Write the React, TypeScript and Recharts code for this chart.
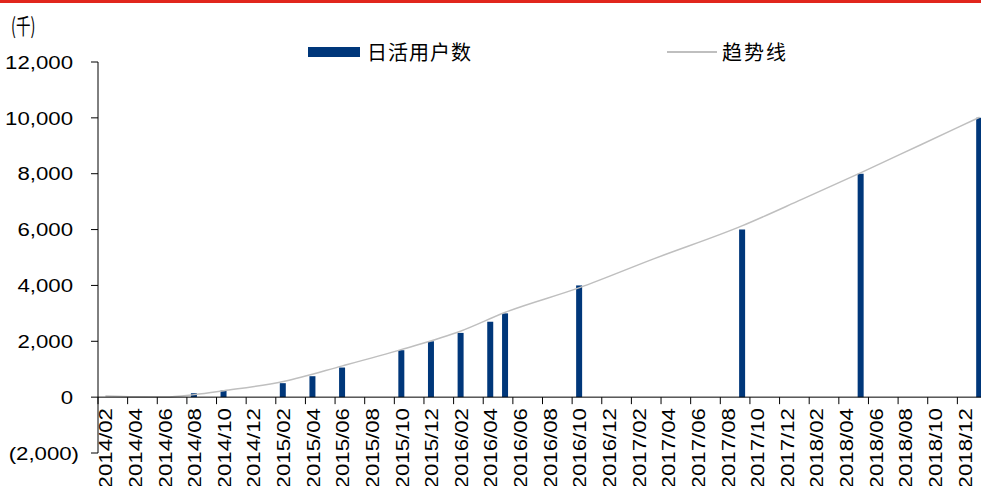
import { ComposedChart, Bar, Line, XAxis, YAxis, ReferenceLine } from 'recharts';

// monthly categories, 2014/02 .. 2019/01
const months = [
  '2014/02', '2014/03', '2014/04', '2014/05', '2014/06', '2014/07', '2014/08', '2014/09', '2014/10', '2014/11', '2014/12',
  '2015/01', '2015/02', '2015/03', '2015/04', '2015/05', '2015/06', '2015/07', '2015/08', '2015/09', '2015/10', '2015/11', '2015/12',
  '2016/01', '2016/02', '2016/03', '2016/04', '2016/05', '2016/06', '2016/07', '2016/08', '2016/09', '2016/10', '2016/11', '2016/12',
  '2017/01', '2017/02', '2017/03', '2017/04', '2017/05', '2017/06', '2017/07', '2017/08', '2017/09', '2017/10', '2017/11', '2017/12',
  '2018/01', '2018/02', '2018/03', '2018/04', '2018/05', '2018/06', '2018/07', '2018/08', '2018/09', '2018/10', '2018/11', '2018/12',
  '2019/01',
];

// 日活用户数 (千)
const dailyActiveUsers = [
  null, null, null, null, null, null, 140, null, 240, null, null,
  null, 500, null, 750, null, 1060, null, null, null, 1680, null, 2000,
  null, 2300, null, 2700, 3000, null, null, null, null, 4000, null, null,
  null, null, null, null, null, null, null, null, 6000, null, null, null,
  null, null, null, null, 8000, null, null, null, null, null, null, null,
  10000,
];

// 趋势线 at a few months
const trendLine = [
  40, null, 10, null, 5, null, 90, null, 230, null, null,
  null, 560, null, null, null, 1120, null, null, null, 1710, null, null,
  null, 2370, null, null, 3040, null, null, null, null, 3920, null, null,
  null, null, 4950, null, null, null, null, null, 6140, null, null, null,
  7080, null, null, null, 8040, null, null, null, 9030, null, null, null,
  10020,
];

const yTicks = [-2000, 0, 2000, 4000, 6000, 8000, 10000, 12000];
const Y_MIN = -2000;
const Y_MAX = 12000;

const data = months.map((month, i) => ({
  month,
  dau: dailyActiveUsers[i],
  trend: trendLine[i],
}));

const CHART_W = 990;
const CHART_H = 486;
const MARGIN = { top: 62, right: 3, bottom: 0, left: 0 };
const Y_AXIS_W = 98;
const X_AXIS_H = 33;
const PLOT_H = CHART_H - MARGIN.top - MARGIN.bottom - X_AXIS_H;
// x axis sits on the zero line, not at the bottom of the plot
const ZERO_Y = MARGIN.top + (PLOT_H * Y_MAX) / (Y_MAX - Y_MIN);

const BAR_COLOR = '#00377a';
const TREND_COLOR = '#bfbfbf';
const FONT = '"Liberation Sans", Arial, sans-serif';
const CJK_FONT = '"Noto Sans CJK SC", sans-serif';
// the source text is drawn a bit wide
const STRETCH = 1.17;

const formatY = (v: number) => {
  const s = Math.abs(v).toLocaleString('en-US');
  return v < 0 ? `(${s})` : s;
};

const ValueTick = (props: any) => {
  const { x, y, payload } = props;
  // closing paren hangs past the digits, like the source's number format
  const shift = payload.value < 0 ? 6 : 0;
  return (
    <text
      transform={`translate(${x + shift}, ${y}) scale(${STRETCH}, 1)`}
      dy="0.355em"
      textAnchor="end"
      fontSize={19}
      fontFamily={FONT}
      fill="#000"
    >
      {formatY(payload.value)}
    </text>
  );
};

const MonthTick = (props: any) => {
  const { x, payload } = props;
  const left = x - (payload.offset || 0);
  const top = ZERO_Y + 11;
  return (
    <g>
      <line x1={left} x2={left} y1={ZERO_Y} y2={ZERO_Y + 7} stroke="#000" />
      <text
        transform={`translate(${x}, ${top}) rotate(-90) scale(${STRETCH}, 1)`}
        dy="0.36em"
        textAnchor="end"
        fontSize={19}
        fontFamily={FONT}
        fill="#000"
      >
        {payload.value}
      </text>
    </g>
  );
};

export default function App() {
  return (
    <div
      style={{
        position: 'absolute',
        left: 0,
        top: 0,
        width: 981,
        height: 486,
        overflow: 'hidden',
        background: '#fff',
      }}
    >
      <div style={{ position: 'absolute', left: 0, top: 0, width: 981, height: 3, background: '#e1261c' }} />
      <div
        style={{
          position: 'absolute',
          left: 11,
          top: 10,
          fontSize: 22,
          fontFamily: CJK_FONT,
          lineHeight: '28px',
          color: '#000',
          transform: 'scale(0.66, 1)',
          transformOrigin: 'left top',
        }}
      >
        (千)
      </div>

      {/* legend */}
      <div style={{ position: 'absolute', left: 308, top: 47, width: 52, height: 10, background: BAR_COLOR }} />
      <div
        style={{
          position: 'absolute',
          left: 367,
          top: 38,
          fontSize: 20,
          letterSpacing: 1,
          fontFamily: CJK_FONT,
          lineHeight: '28px',
          color: '#000',
        }}
      >
        日活用户数
      </div>
      <div style={{ position: 'absolute', left: 667, top: 51, width: 50, height: 2, background: TREND_COLOR }} />
      <div
        style={{
          position: 'absolute',
          left: 722,
          top: 38,
          fontSize: 20,
          letterSpacing: 2,
          fontFamily: CJK_FONT,
          lineHeight: '28px',
          color: '#000',
        }}
      >
        趋势线
      </div>

      <div style={{ position: 'absolute', left: 0, top: 0 }}>
        <ComposedChart width={CHART_W} height={CHART_H} data={data} margin={MARGIN}>
          <XAxis
            dataKey="month"
            interval={1}
            axisLine={false}
            tickLine={false}
            height={X_AXIS_H}
            tick={<MonthTick />}
          />
          <YAxis
            width={Y_AXIS_W}
            domain={[Y_MIN, Y_MAX]}
            ticks={yTicks}
            tickSize={7}
            tickMargin={18}
            axisLine={{ stroke: '#000' }}
            tickLine={{ stroke: '#000' }}
            tick={<ValueTick />}
          />
          <Bar dataKey="dau" fill={BAR_COLOR} barSize={6} isAnimationActive={false} />
          <Line
            dataKey="trend"
            type="monotone"
            stroke={TREND_COLOR}
            strokeWidth={1.5}
            dot={false}
            connectNulls
            isAnimationActive={false}
          />
          <ReferenceLine y={0} stroke="#000" strokeWidth={1} />
        </ComposedChart>
      </div>
    </div>
  );
}
